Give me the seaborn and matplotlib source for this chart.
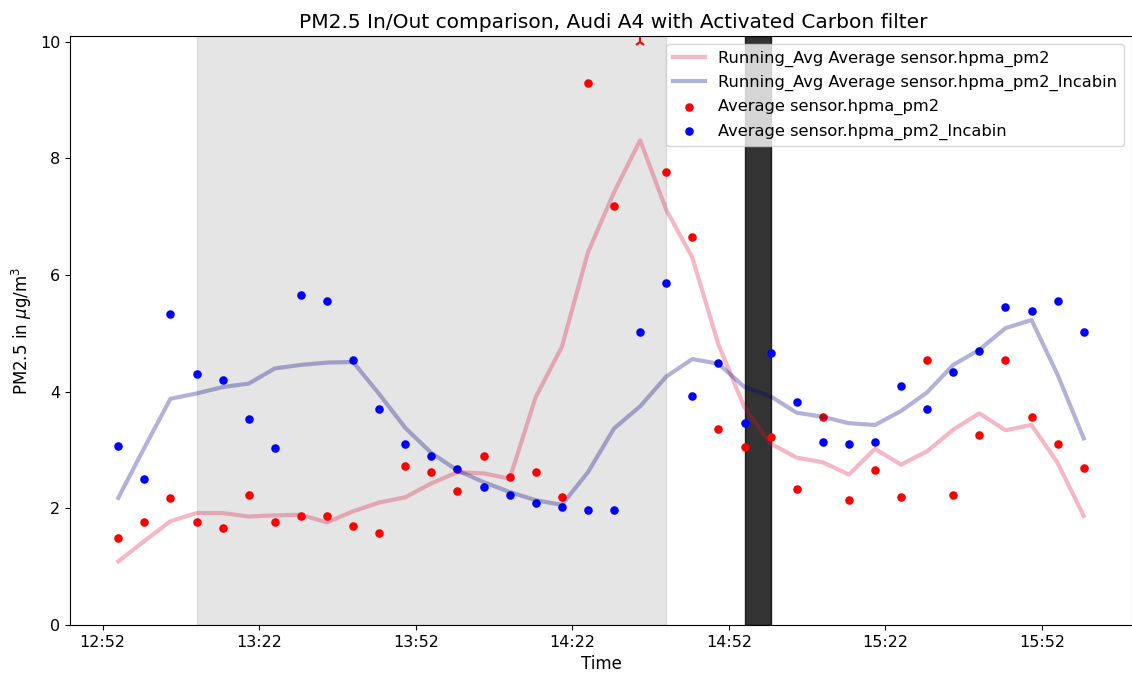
import numpy as np
import pandas as pd
import matplotlib
matplotlib.use("Agg")
import matplotlib.pyplot as plt
import matplotlib.dates as mdates
import seaborn as sns

# 5-minute averages, outdoor sensor vs. in-cabin sensor (µg/m³)
times = pd.date_range("2019-06-01 12:55", periods=38, freq="5min")

outdoor = [1.50, 1.77, 2.17, 1.77, 1.67, 2.23, 1.77, 1.87, 1.87, 1.70,
           1.57, 2.73, 2.63, 2.30, 2.90, 2.53, 2.63, 2.20, 9.30, 7.19,
           10.64, 7.76, 6.66, 3.36, 3.06, 3.23, 2.33, 3.57, 2.14, 2.66,
           2.20, 4.54, 2.23, 3.26, 4.54, 3.57, 3.10, 2.70]
incabin = [3.07, 2.50, 5.33, 4.30, 4.20, 3.53, 3.03, 5.66, 5.56, 4.54,
           3.70, 3.10, 2.90, 2.67, 2.37, 2.23, 2.10, 2.03, 1.97, 1.97,
           5.03, 5.86, 3.93, 4.50, 3.46, 4.66, 3.83, 3.13, 3.10, 3.13,
           4.10, 3.70, 4.33, 4.70, 5.46, 5.39, 5.56, 5.03]

# running averages
outdoor_avg = [1.09, 1.44, 1.78, 1.92, 1.92, 1.86, 1.88, 1.89, 1.76, 1.95,
               2.10, 2.19, 2.43, 2.62, 2.60, 2.51, 3.91, 4.77, 6.39, 7.42,
               8.31, 7.12, 6.30, 4.81, 3.73, 3.11, 2.87, 2.79, 2.58, 3.02,
               2.75, 2.98, 3.35, 3.63, 3.34, 3.43, 2.78, 1.87]
incabin_avg = [2.18, 3.04, 3.88, 3.97, 4.08, 4.14, 4.40, 4.46, 4.50, 4.51,
               3.96, 3.38, 2.95, 2.65, 2.45, 2.28, 2.14, 2.06, 2.62, 3.37,
               3.75, 4.26, 4.56, 4.48, 4.08, 3.92, 3.64, 3.57, 3.46, 3.43,
               3.67, 3.99, 4.46, 4.72, 5.09, 5.23, 4.29, 3.20]

filter_period = ("2019-06-01 13:10", "2019-06-01 14:40")
stop_period = ("2019-06-01 14:55", "2019-06-01 15:00")
tick_labels = ["12:52", "13:22", "13:52", "14:22", "14:52", "15:22", "15:52"]
y_top = 10.1
clip_level = 10.0

df = pd.DataFrame({
    "time": times,
    "outdoor": outdoor,
    "incabin": incabin,
    "outdoor_avg": outdoor_avg,
    "incabin_avg": incabin_avg,
})

fig = plt.figure(figsize=(11.32, 6.74), dpi=100)
ax = fig.add_axes([70 / 1132, 1 - 625 / 674, (1132 - 70) / 1132, (625 - 36) / 674])

ax.axvspan(pd.Timestamp(filter_period[0]), pd.Timestamp(filter_period[1]),
           color="grey", alpha=0.2)
ax.axvspan(pd.Timestamp(stop_period[0]), pd.Timestamp(stop_period[1]),
           color="black", alpha=0.8)

sns.lineplot(data=df, x="time", y="outdoor_avg", ax=ax, color="crimson",
             alpha=0.3, linewidth=3,
             label="Running_Avg Average sensor.hpma_pm2")
sns.lineplot(data=df, x="time", y="incabin_avg", ax=ax, color="navy",
             alpha=0.3, linewidth=3,
             label="Running_Avg Average sensor.hpma_pm2_Incabin")
sns.scatterplot(data=df, x="time", y="outdoor", ax=ax, color="red",
                s=38, linewidth=0, label="Average sensor.hpma_pm2")
sns.scatterplot(data=df, x="time", y="incabin", ax=ax, color="blue",
                s=38, linewidth=0, label="Average sensor.hpma_pm2_Incabin")

# off-scale readings are flagged at the top of the axis
off = df[df["outdoor"] > clip_level]
ax.plot(off["time"], np.full(len(off), clip_level), linestyle="none",
        marker="2", color="red", markersize=8, markeredgewidth=1.5)

ax.set_ylim(0, y_top)
ax.set_yticks([0, 2, 4, 6, 8, 10])
ax.set_xticks([pd.Timestamp("2019-06-01 " + t) for t in tick_labels])
ax.xaxis.set_major_formatter(mdates.DateFormatter("%H:%M"))

ax.set_title("PM2.5 In/Out comparison, Audi A4 with Activated Carbon filter",
             fontsize=14.5, x=0.512)
ax.set_xlabel("Time", fontsize=12)
ax.set_ylabel("PM2.5 in $\\mu$g/m$^3$", fontsize=12)
ax.tick_params(labelsize=11.5)
ax.legend(loc="upper right", fontsize=11.7)

fig.savefig("out.png", dpi=100)
